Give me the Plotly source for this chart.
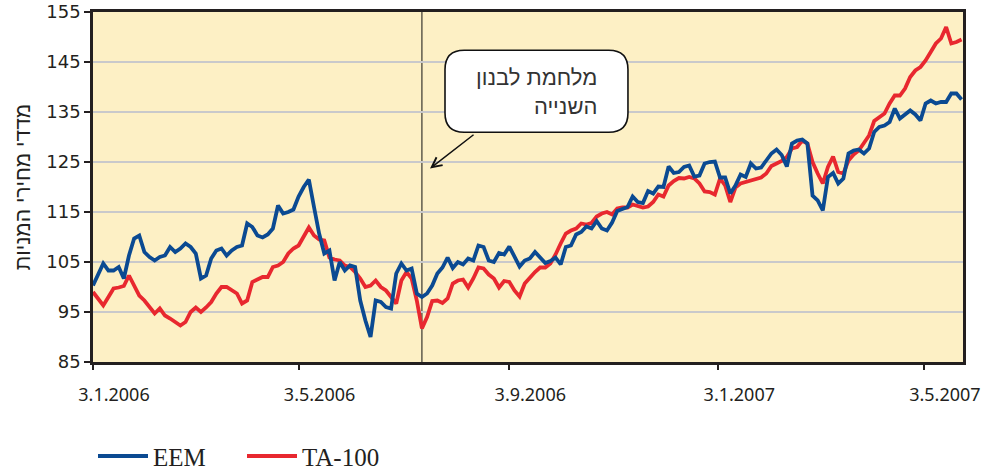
import pandas as pd
import plotly.graph_objects as go

# Index levels sampled every third calendar day from 3 Jan 2006
eem = [
    100.3, 102.3, 104.7, 103.3, 103.3, 104.0, 101.7, 106.3, 109.7, 110.3,
    107.0, 106.0, 105.3, 106.0, 106.3, 108.0, 107.0, 107.7, 108.7, 108.0,
    106.7, 101.7, 102.3, 105.7, 107.3, 107.7, 106.3, 107.3, 108.0, 108.3,
    112.7, 112.0, 110.3, 109.9, 110.5, 111.7, 116.3, 114.7, 115.0, 115.5,
    118.1, 120.0, 121.5, 116.0, 110.7, 106.7, 107.3, 101.3, 105.0, 103.3,
    104.3, 104.0, 97.3, 93.3, 90.0, 97.3, 97.0, 96.0, 95.7, 102.7,
    104.7, 103.3, 103.7, 98.7, 98.0, 98.7, 100.3, 102.7, 103.9, 105.9,
    103.8, 105.0, 104.5, 105.7, 105.3, 108.3, 108.0, 105.3, 105.0, 106.8,
    106.5, 108.1, 106.1, 104.1, 105.3, 105.7, 107.0, 106.0, 104.8, 105.2,
    105.9, 104.5, 108.0, 108.3, 110.5, 111.0, 112.1, 111.7, 113.2, 111.7,
    111.3, 112.9, 115.2, 115.6, 116.0, 118.1, 117.0, 116.8, 119.2, 118.7,
    120.1, 120.0, 124.1, 122.8, 123.0, 124.0, 124.3, 122.1, 122.3, 124.7,
    125.0, 125.1, 121.9, 121.9, 118.7, 120.3, 122.5, 122.0, 124.7, 123.7,
    123.9, 125.3, 126.7, 127.5, 126.4, 124.1, 128.7, 129.3, 129.5, 128.7,
    118.3, 117.3, 115.3, 122.0, 122.8, 120.7, 121.7, 126.7, 127.3, 127.5,
    126.7, 127.7, 131.0, 132.0, 132.3, 133.0, 135.7, 133.7, 134.5, 135.3,
    134.5, 133.3, 136.7, 137.3, 136.7, 137.0, 137.0, 138.7, 138.7, 137.5,
]

ta100 = [
    99.0, 97.5, 96.3, 98.0, 99.7, 99.9, 100.2, 102.3, 100.3, 98.3,
    97.3, 96.0, 94.7, 95.7, 94.3, 93.7, 93.0, 92.3, 93.0, 95.0,
    95.9, 95.0, 95.9, 97.0, 98.7, 100.0, 100.0, 99.3, 98.7, 96.7,
    97.3, 101.0, 101.5, 102.0, 102.0, 104.0, 104.3, 105.0, 106.7, 107.7,
    108.3, 110.1, 111.9, 110.3, 109.5, 109.3, 105.9, 105.5, 105.3, 104.3,
    104.0, 103.0, 101.7, 100.0, 100.3, 101.3, 100.0, 99.3, 97.9, 96.7,
    101.3, 103.0, 101.7, 97.3, 91.7, 94.0, 97.2, 97.3, 96.8, 97.7,
    100.7, 101.3, 101.5, 99.9, 101.7, 103.9, 103.7, 102.5, 101.7, 99.9,
    101.2, 101.0, 99.3, 98.1, 100.7, 102.0, 103.0, 103.9, 103.9, 104.7,
    106.5, 108.7, 110.7, 111.3, 111.7, 112.7, 112.5, 112.8, 114.1, 114.7,
    115.0, 114.5, 115.7, 115.9, 115.9, 116.5, 116.2, 115.9, 116.1, 117.0,
    118.5, 118.1, 120.3, 121.2, 121.8, 121.7, 122.0, 121.7, 120.7, 119.1,
    119.0, 118.5, 121.7, 120.3, 117.0, 119.9, 120.7, 121.0, 121.3, 121.7,
    121.9, 122.7, 124.2, 124.7, 125.2, 126.0, 127.7, 128.0, 129.3, 128.7,
    125.0, 122.7, 120.7, 124.0, 126.1, 123.0, 122.7, 125.3, 126.5, 127.3,
    128.7, 130.3, 133.2, 134.0, 134.7, 136.7, 138.3, 138.3, 139.7, 142.0,
    143.3, 144.0, 145.3, 147.0, 148.7, 149.7, 152.0, 148.7, 149.0, 149.5,
]

dates = pd.date_range("2006-01-03", periods=len(eem), freq="3D")

tick_dates = ["2006-01-03", "2006-05-03", "2006-09-03", "2007-01-03", "2007-05-03"]
tick_labels = ["3.1.2006", "3.5.2006", "3.9.2006", "3.1.2007", "3.5.2007"]
y_ticks = [85, 95, 105, 115, 125, 135, 145, 155]
war_start = "2006-07-14"

INK = "#231f20"
BLUE = "#0b4a92"
RED = "#e8282f"
SANS = "Noto Sans"
HEB = "Liberation Sans"

fig = go.Figure()
fig.add_trace(go.Scatter(x=dates, y=ta100, name="TA-100", mode="lines",
                         line=dict(color=RED, width=3.8)))
fig.add_trace(go.Scatter(x=dates, y=eem, name="EEM", mode="lines",
                         line=dict(color=BLUE, width=3.8)))

# Rounded call-out box (paper coordinates)
bx0, bx1, by0, by1 = 0.4046, 0.6149, 0.6563, 0.8906
rx, ry = 0.022, 0.055
box_path = (
    f"M{bx0+rx},{by1} L{bx1-rx},{by1} Q{bx1},{by1} {bx1},{by1-ry} "
    f"L{bx1},{by0+ry} Q{bx1},{by0} {bx1-rx},{by0} "
    f"L{bx0+rx},{by0} Q{bx0},{by0} {bx0},{by0+ry} "
    f"L{bx0},{by1-ry} Q{bx0},{by1} {bx0+rx},{by1} Z"
)

fig.update_layout(
    width=992, height=473,
    margin=dict(l=93, r=29, t=12, b=111, autoexpand=False),
    paper_bgcolor="white",
    plot_bgcolor="#fdf0c5",
    font=dict(family=SANS, color=INK),
    xaxis=dict(
        type="date",
        range=["2006-01-03", "2007-05-25 20:00"],
        tickvals=tick_dates, ticktext=tick_labels,
        ticks="outside", ticklen=5, tickwidth=2, tickcolor=INK,
        showline=True, linewidth=2.5, linecolor=INK, mirror=True,
        showgrid=False, zeroline=False,
        tickfont=dict(family=SANS, size=18, color=INK),
        ticklabelstandoff=10, ticklabelshift=21,
        ticklabeloverflow="allow",
    ),
    yaxis=dict(
        range=[85, 155],
        tickvals=y_ticks,
        ticks="outside", ticklen=6, tickwidth=2, tickcolor=INK,
        showline=True, linewidth=2.5, linecolor=INK, mirror=True,
        showgrid=True, gridcolor="#c9c9cb", gridwidth=2, zeroline=False,
        tickfont=dict(family="DejaVu Sans", size=18, color=INK),
        ticklabeloverflow="allow",
        title=dict(text="מדדי מחירי המניות", standoff=10,
                   font=dict(family=HEB, size=21, color=INK)),
    ),
    legend=dict(
        orientation="h", x=0, xanchor="left", y=-0.335, yanchor="bottom",
        traceorder="reversed",
        font=dict(family="Liberation Serif", size=25, color=INK),
        itemwidth=50, entrywidth=84, entrywidthmode="pixels",
        bgcolor="rgba(0,0,0,0)",
    ),
    shapes=[
        dict(type="line", xref="x", yref="paper", x0=war_start, x1=war_start,
             y0=0, y1=1, line=dict(color="#111111", width=1), layer="between"),
        dict(type="path", xref="paper", yref="paper", path=box_path,
             fillcolor="white", line=dict(color="#111111", width=1.6),
             layer="above"),
    ],
    annotations=[
        dict(xref="paper", yref="paper", x=0.3874, y=0.5526, text="",
             showarrow=True, ax=45, ay=-35, arrowhead=5, arrowsize=1.3,
             arrowwidth=1.5, arrowcolor="#111111"),
        dict(xref="paper", yref="paper", x=0.5816, y=0.772,
             xanchor="right", yanchor="middle", align="right",
             text="מלחמת לבנון<br>השנייה", showarrow=False,
             font=dict(family=HEB, size=22, color="#333333")),
    ],
)

fig.write_html("out.html")
